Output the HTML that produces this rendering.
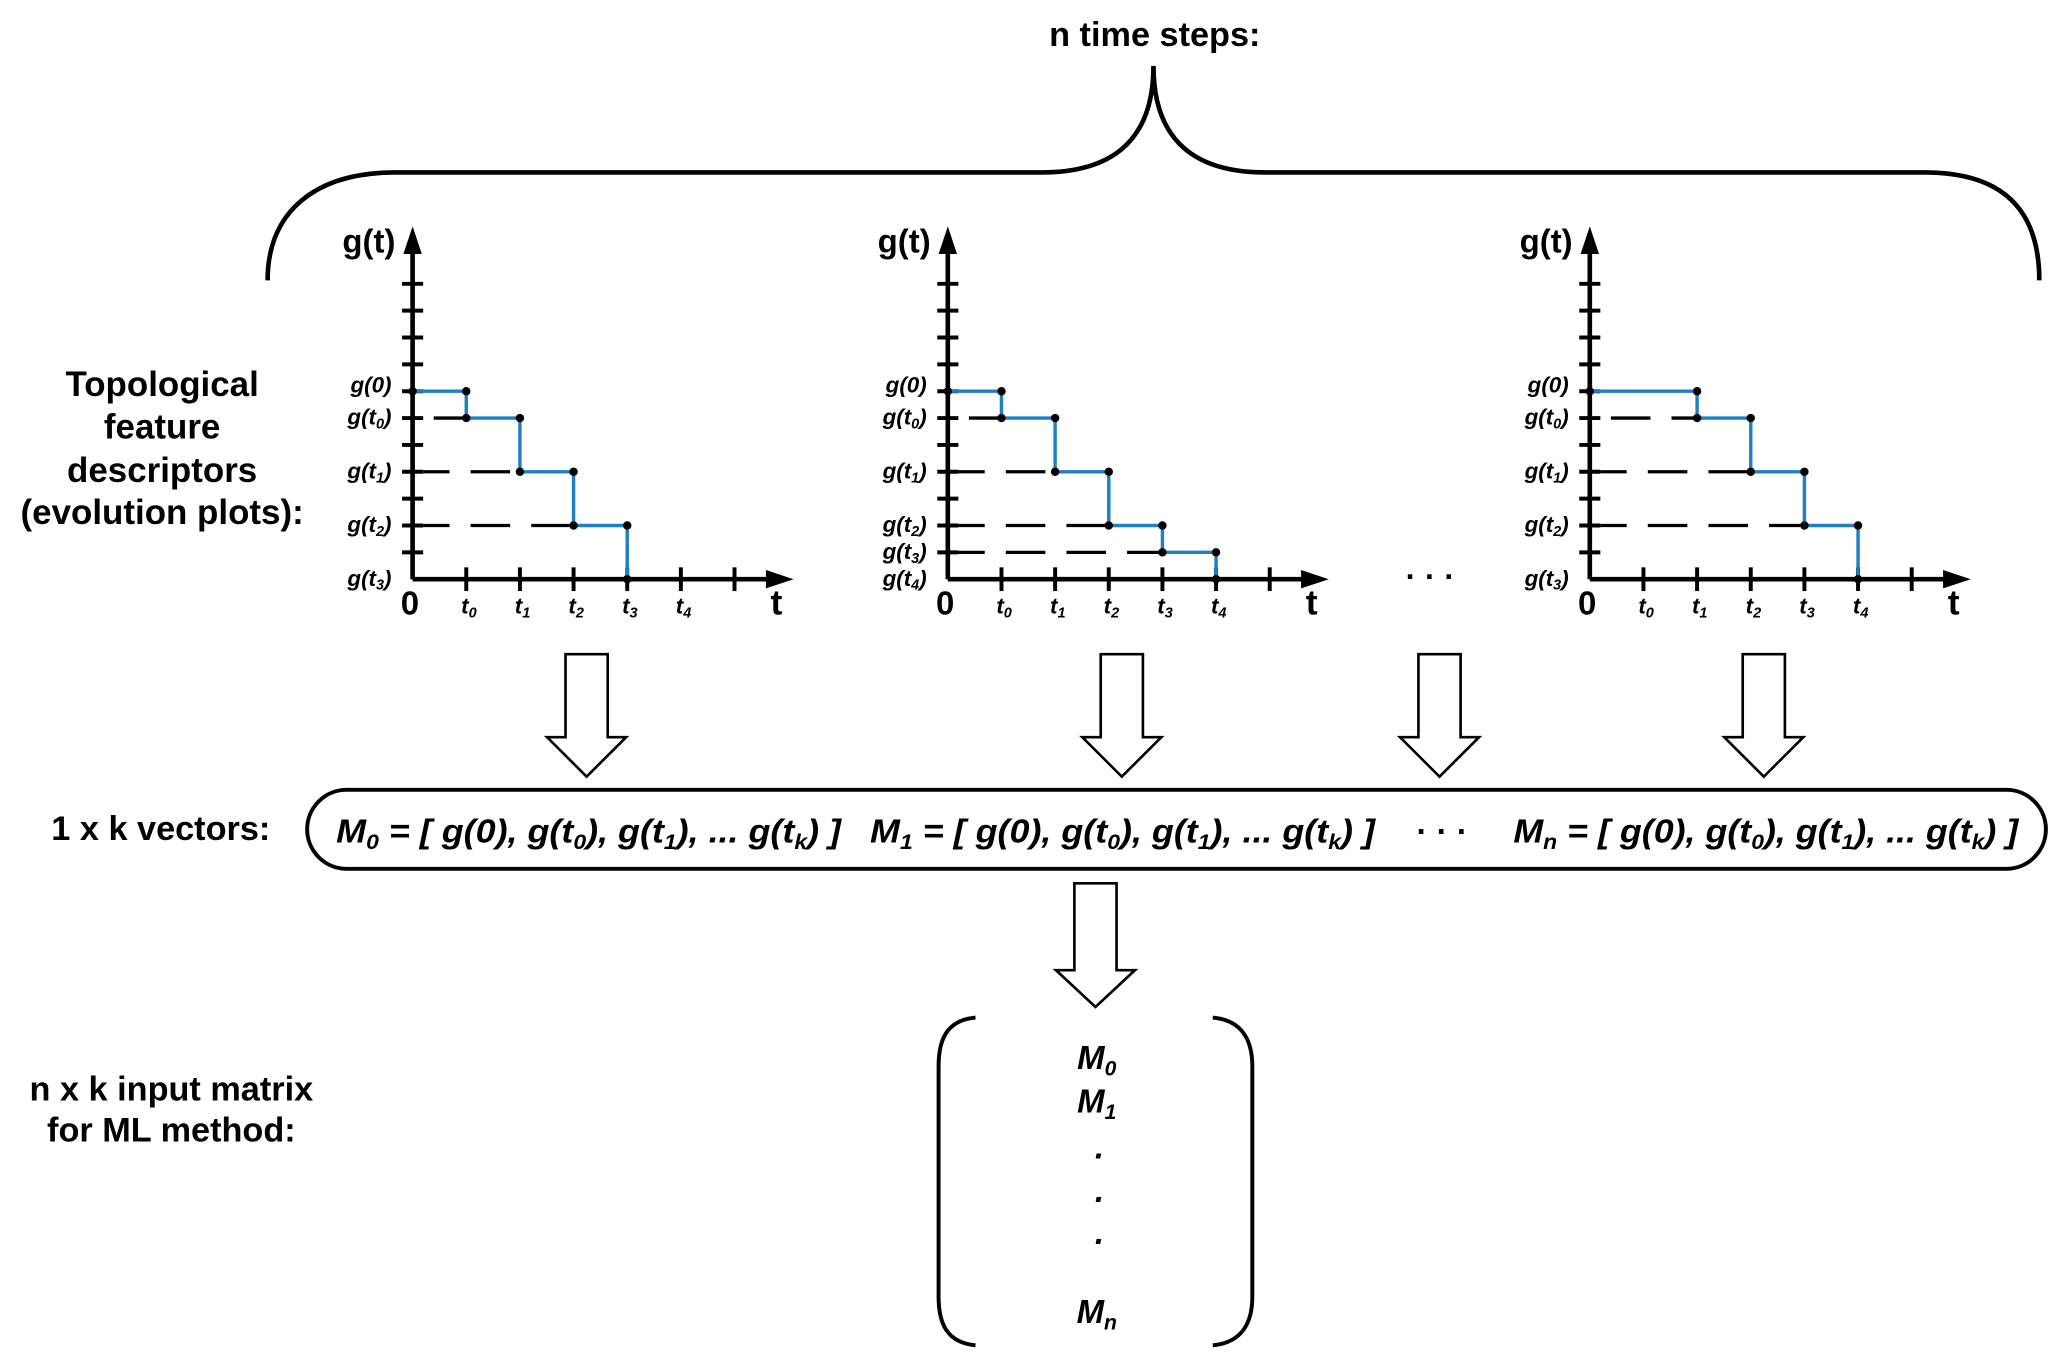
<!DOCTYPE html>
<html><head><meta charset="utf-8"><style>
html,body{margin:0;padding:0;background:#fff;width:2067px;height:1369px;overflow:hidden}
svg{display:block}
text{font-family:"Liberation Sans",sans-serif;fill:#000}
.b{font-weight:bold}
.lab{font-weight:bold;font-style:italic;font-size:17px}
</style></head><body>
<svg id="fig" width="2067" height="1369" viewBox="0 0 1568 1040" preserveAspectRatio="none" xmlns="http://www.w3.org/2000/svg">
<text class="b" x="876" y="35" font-size="26" text-anchor="middle">n time steps:</text>
<path d="M203,213 C203,160 240,131 300,131 L790,131 C840,131 875,110 875,50 C875,110 910,131 960,131 L1460,131 C1520,131 1547,160 1547,213" fill="none" stroke="#000" stroke-width="3.5"/>
<g class="b" font-size="26.5" text-anchor="middle">
<text x="123" y="301">Topological</text><text x="123" y="333">feature</text><text x="123" y="366">descriptors</text><text x="123" y="398">(evolution plots):</text></g>
<text class="b" x="1085" y="446" font-size="24" text-anchor="middle">· · ·</text>
<g id="plots"></g>
<g id="arrows"></g>
<rect x="233" y="600" width="1319" height="60" rx="30" fill="none" stroke="#000" stroke-width="3"/>
<text class="b" x="122" y="638" font-size="26" text-anchor="middle">1 x k vectors:</text>
<g font-size="25" font-weight="bold" font-style="italic">
<text x="255" y="640" textLength="383" lengthAdjust="spacingAndGlyphs">M<tspan font-size="16" dy="5">0</tspan><tspan dy="-5"> = [ g(0), g(t</tspan><tspan font-size="16" dy="5">0</tspan><tspan dy="-5">), g(t</tspan><tspan font-size="16" dy="5">1</tspan><tspan dy="-5">), ... g(t</tspan><tspan font-size="16" dy="5">k</tspan><tspan dy="-5">) ]</tspan></text>
<text x="660" y="640" textLength="383" lengthAdjust="spacingAndGlyphs">M<tspan font-size="16" dy="5">1</tspan><tspan dy="-5"> = [ g(0), g(t</tspan><tspan font-size="16" dy="5">0</tspan><tspan dy="-5">), g(t</tspan><tspan font-size="16" dy="5">1</tspan><tspan dy="-5">), ... g(t</tspan><tspan font-size="16" dy="5">k</tspan><tspan dy="-5">) ]</tspan></text>
<text x="1094" y="640" text-anchor="middle" font-style="normal">· · ·</text>
<text x="1148" y="640" textLength="383" lengthAdjust="spacingAndGlyphs">M<tspan font-size="16" dy="5">n</tspan><tspan dy="-5"> = [ g(0), g(t</tspan><tspan font-size="16" dy="5">0</tspan><tspan dy="-5">), g(t</tspan><tspan font-size="16" dy="5">1</tspan><tspan dy="-5">), ... g(t</tspan><tspan font-size="16" dy="5">k</tspan><tspan dy="-5">) ]</tspan></text>
</g>
<g class="b" font-size="26" text-anchor="middle">
<text x="130" y="836">n x k input matrix</text><text x="130" y="867">for ML method:</text></g>
<path d="M740,773 C718,775 712,790 712,810 L712,985 C712,1005 718,1020 740,1022" fill="none" stroke="#000" stroke-width="3"/>
<path d="M920,773 C942,775 950,790 950,810 L950,985 C950,1005 942,1020 920,1022" fill="none" stroke="#000" stroke-width="3"/>
<g font-size="25" font-weight="bold" font-style="italic" text-anchor="middle">
<text x="832" y="812">M<tspan font-size="16" dy="5">0</tspan></text>
<text x="832" y="845">M<tspan font-size="16" dy="5">1</tspan></text>
<text x="834" y="880">.</text>
<text x="834" y="913">.</text>
<text x="834" y="945">.</text>
<text x="832" y="1005">M<tspan font-size="16" dy="5">n</tspan></text>
</g>
</svg>
<script>
const NS="http://www.w3.org/2000/svg";
// data
const plotOrigins=[313,719,1206];
const plot1Levels=[7,6,4,2,0], plot1Breaks=[1,2,3,4];
const plot2Levels=[7,6,4,2,1,0], plot2Breaks=[1,2,3,4,5];
const plot3Levels=[7,6,4,2,0], plot3Breaks=[2,3,4,5];
const plot1YLabels=["0","t0","t1","t2","t3"];
const plot2YLabels=["0","t0","t1","t2","t3","t4"];
const plot3YLabels=["0","t0","t1","t2","t3"];
const xTickLabels=["t0","t1","t2","t3","t4"];
const levelsAll=[plot1Levels,plot2Levels,plot3Levels];
const breaksAll=[plot1Breaks,plot2Breaks,plot3Breaks];
const ylabAll=[plot1YLabels,plot2YLabels,plot3YLabels];
const Y0=440, UY=20.4, UX=40.7;
function mk(tag,attrs,parent){const e=document.createElementNS(NS,tag);for(const k in attrs)e.setAttribute(k,attrs[k]);parent.appendChild(e);return e;}
const plotsG=document.getElementById('plots');
for(let p=0;p<3;p++){
  const X0=plotOrigins[p];
  const xs=i=>X0+i*UX, ys=v=>Y0-v*UY;
  const g=mk('g',{},plotsG);
  
  
  const ya=mk('path',{d:`M${X0},${Y0} L${X0},185`,stroke:'#000','stroke-width':3.5,fill:'none'},g);
  
  
  const yh=mk('path',{d:`M${X0-7},193 L${X0},172 L${X0+7},193 Z`,fill:'#000'},g);
  
  
  const xa=mk('path',{d:`M${X0},${Y0} L${X0+275},${Y0}`,stroke:'#000','stroke-width':3.5,fill:'none'},g);
  
  
  const xh=mk('path',{d:`M${X0+268},${Y0-7} L${X0+289},${Y0} L${X0+268},${Y0+7} Z`,fill:'#000'},g);
  
  
  for(let i=1;i<=11;i++){const t=mk('line',{x1:X0-8,x2:X0+8,y1:ys(i),y2:ys(i),stroke:'#000','stroke-width':3},g);
    
    }
  for(let i=1;i<=6;i++){const t=mk('line',{x1:xs(i),x2:xs(i),y1:Y0-9,y2:Y0+9,stroke:'#000','stroke-width':3},g);
    
    }
  const gt=mk('text',{x:X0-13,y:192,'font-size':25,'font-weight':'bold','text-anchor':'end'},g);gt.textContent='g(t)';
  
  
  const z=mk('text',{x:X0-2,y:467,'font-size':25,'font-weight':'bold','text-anchor':'middle'},g);z.textContent='0';
  
  
  const tt=mk('text',{x:X0+276,y:467,'font-size':27,'font-weight':'bold','text-anchor':'middle'},g);tt.textContent='t';
  
  
  xTickLabels.forEach((l,i)=>{const t=mk('text',{x:xs(i+1)+2,y:466,'class':'lab','font-size':16,'text-anchor':'middle'},g);
    t.innerHTML='t<tspan font-size="11" dy="3">'+l.slice(1)+'</tspan>';
    
    });
  const lv=levelsAll[p], br=breaksAll[p], yl=ylabAll[p];
  lv.forEach((v,i)=>{const t=mk('text',{x:X0-16,y:ys(v)+(i==0?1:5),'class':'lab','text-anchor':'end'},g);
    const s=yl[i];
    t.innerHTML= s=="0" ? 'g(0)' : 'g(t<tspan font-size="11" dy="3">'+s.slice(1)+'</tspan><tspan dy="-3">)</tspan>';
    
    });
  for(let i=0;i<br.length;i++){const v=lv[i+1]; if(v===0)continue;
    const d=mk('line',{x1:X0+8,x2:xs(br[i]),y1:ys(v),y2:ys(v),stroke:'#000','stroke-width':2.5,'stroke-dasharray':'30 16','stroke-dashoffset':i==0?-8:10},g);
    
    }
  let d=`M${X0},${ys(lv[0])}`;
  for(let i=0;i<br.length;i++){d+=` L${xs(br[i])},${ys(lv[i])} L${xs(br[i])},${ys(lv[i+1])}`;}
  const st=mk('path',{d,stroke:'#1f7fc4','stroke-width':2.6,fill:'none'},g);
  
  
  const pts=[[0,lv[0]]];
  for(let i=0;i<br.length;i++){pts.push([br[i],lv[i]]);pts.push([br[i],lv[i+1]]);}
  pts.forEach(([a,v])=>{const c=mk('circle',{cx:xs(a),cy:ys(v),r:3.2,fill:'#000'},g);
    
    });
}
const arrowCenters=[445,851,1092,1338];
const ag=document.getElementById('arrows');
function hollow(cx,y1,y2,y3,name){
  const a=mk('path',{d:`M${cx-16},${y1} L${cx+16},${y1} L${cx+16},${y2} L${cx+30},${y2} L${cx},${y3} L${cx-30},${y2} L${cx-16},${y2} Z`,fill:'#fff',stroke:'#000','stroke-width':2},ag);
  
  
}
arrowCenters.forEach((c,i)=>hollow(c,497,560,590,'down-arrow-'+(i+1)));
hollow(831,671,737,765,'matrix-arrow');
</script>
</body></html>
